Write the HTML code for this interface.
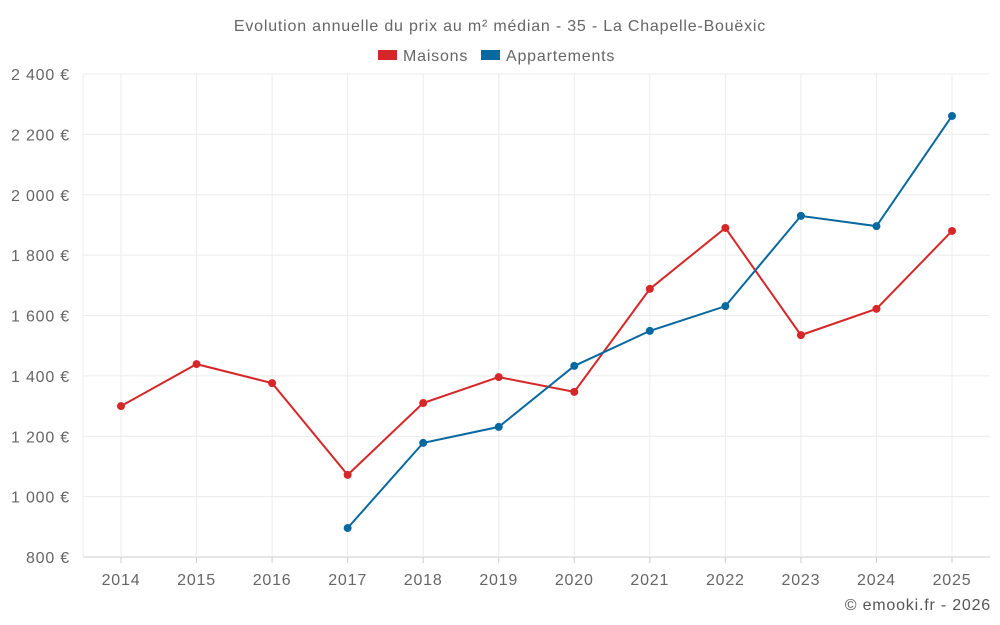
<!DOCTYPE html>
<html><head><meta charset="utf-8">
<style>
html,body{margin:0;padding:0;background:#fff;}
svg{display:block;font-family:"Liberation Sans",sans-serif;}
svg text{letter-spacing:0.8px;}
</style></head>
<body>
<svg id="chart" width="1000" height="625"></svg>
<script>
const years = [2014,2015,2016,2017,2018,2019,2020,2021,2022,2023,2024,2025];
const maisons = [1300,1439,1376,1072,1310,1396,1347,1688,1890,1535,1622,1880];
const appartements = [null,null,null,896,1178,1231,1433,1549,1631,1930,1896,2261];
const yTicks = [800,1000,1200,1400,1600,1800,2000,2200,2400];
const yTickLabels = ["800 €","1 000 €","1 200 €","1 400 €","1 600 €","1 800 €","2 000 €","2 200 €","2 400 €"];

const NS="http://www.w3.org/2000/svg";
const svg=document.getElementById('chart');
const L=83,R=990,T=74,B=557;
const x=i=>121+i*(952-121)/(years.length-1);
const y=v=>B-(v-800)/(2400-800)*(B-T);
function mk(tag,attrs,parent){const e=document.createElementNS(NS,tag);for(const k in attrs)e.setAttribute(k,attrs[k]);(parent||svg).appendChild(e);return e;}

// grid
yTicks.forEach((v,i)=>{
  let gl=mk('line',{x1:L,x2:R,y1:y(v),y2:y(v),stroke:i===0?'#ccc':'#ececec','stroke-width':1});
  
  
  let tx=mk('text',{x:70,y:y(v)+6,'text-anchor':'end','font-size':16,fill:'#666'});
  tx.textContent=yTickLabels[i];
  
  
});
years.forEach((yr,i)=>{
  let gl=mk('line',{x1:x(i),x2:x(i),y1:T,y2:B,stroke:'#ececec','stroke-width':1});
  
  
  let tk=mk('line',{x1:x(i),x2:x(i),y1:B,y2:B+6,stroke:'#ccc'});
  
  
  let tx=mk('text',{x:x(i),y:585,'text-anchor':'middle','font-size':16,fill:'#666'});
  tx.textContent=yr;
  
  
});
mk('line',{x1:L,x2:L,y1:T,y2:B,stroke:'#ececec'});

// title
let t=mk('text',{x:500,y:31,'text-anchor':'middle','font-size':16,fill:'#666'});
t.textContent="Evolution annuelle du prix au m² médian - 35 - La Chapelle-Bouëxic";



// legend
let lg=mk('g',{});


let g1=mk('g',{},lg);


mk('rect',{x:378,y:50,width:19,height:10,fill:'#d62728'},g1);
let lt=mk('text',{x:403,y:61,'font-size':16,fill:'#666'},g1);lt.textContent="Maisons";
let g2=mk('g',{},lg);


mk('rect',{x:481,y:50,width:19,height:10,fill:'#0868a0'},g2);
lt=mk('text',{x:506,y:61,'font-size':16,fill:'#666'},g2);lt.textContent="Appartements";

function series(vals,color,name){
  let pts=[];vals.forEach((v,i)=>{if(v!=null)pts.push([x(i),y(v)]);});
  let p=mk('polyline',{points:pts.map(p=>p.join(',')).join(' '),fill:'none',stroke:color,'stroke-width':2});
  
  
  pts.forEach(pt=>{
    let c=mk('circle',{cx:pt[0],cy:pt[1],r:4,fill:color});
    
    
  });
}
series(maisons,'#d62728','maisons');
series(appartements,'#0868a0','appartements');

let cr=mk('text',{x:991,y:610,'text-anchor':'end','font-size':16,fill:'#555'});
cr.textContent="© emooki.fr - 2026";


</script>
</body></html>
